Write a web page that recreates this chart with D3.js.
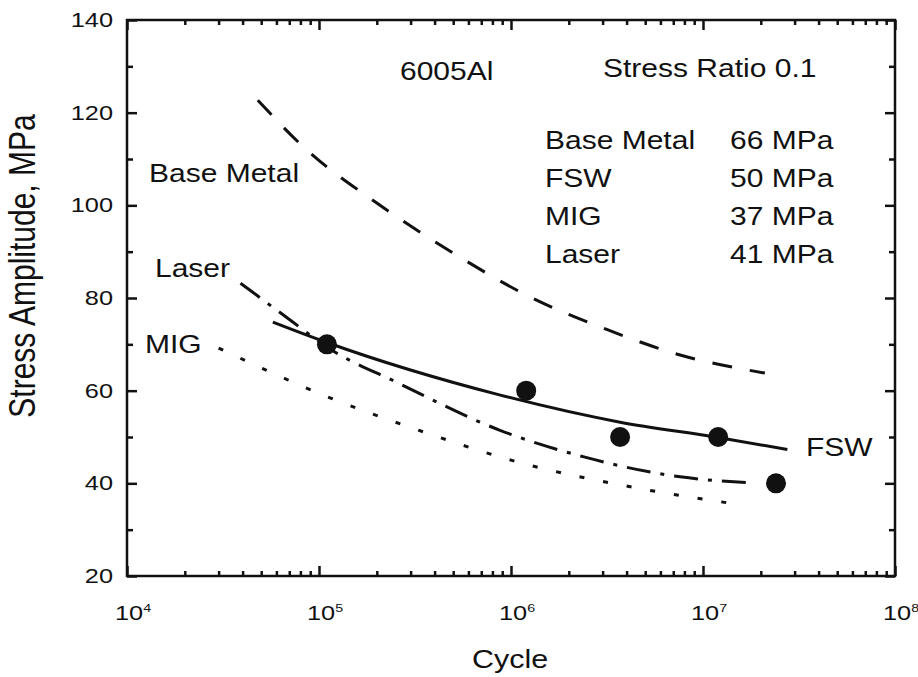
<!DOCTYPE html>
<html>
<head>
<meta charset="utf-8">
<script src="https://cdn.jsdelivr.net/npm/d3@7"></script>
<style>
  body { margin: 0; background: #fff; }
  text { font-family: "Liberation Sans", Arial, Helvetica, sans-serif; fill: #111; }
</style>
</head>
<body>
<div id="chart"></div>
<script>
// S-N curves for 6005Al: [cycles, stress amplitude MPa]
const baseMetal = [[4.8e4, 122.7], [8.3e4, 112.6], [2.0e5, 100.5], [5.0e5, 89.7],
                   [1.26e6, 80.2], [3.2e6, 73.1], [7.6e6, 67.7], [2.1e7, 63.8]];
const fsw = [[5.75e4, 74.8], [1.1e5, 70.4], [8.7e5, 59.1], [3.7e6, 53.2],
             [1.2e7, 49.9], [2.75e7, 47.3]];
const laser = [[3.9e4, 83.2], [7.1e4, 75.2], [1.1e5, 69.4], [2.6e5, 61.6],
               [8.7e5, 51.5], [2.4e6, 45.7], [7.6e6, 41.4], [1.8e7, 40.1]];
const mig = [[3.0e4, 69.2], [1.15e5, 58.4], [3.5e5, 51.1], [1.0e6, 45.0],
             [5.1e6, 38.6], [1.5e7, 35.5]];
const fswPoints = [[1.1e5, 70], [1.2e6, 60], [3.7e6, 50], [1.2e7, 50], [2.4e7, 40]];

const yTicks = [20, 40, 60, 80, 100, 120, 140];
const xDecades = [4, 5, 6, 7, 8];
const limitNames = ["Base Metal", "FSW", "MIG", "Laser"];
const limitValues = ["66 MPa", "50 MPa", "37 MPa", "41 MPa"];

const width = 918, height = 677;
const plotLeft = 127, plotRight = 895, plotTop = 20, plotBottom = 576;

const svg = d3.select('#chart')
  .append('svg')
    .attr('width', width)
    .attr('height', height);

const x = d3.scaleLog().domain([1e4, 1e8]).range([plotLeft, plotRight]);
const y = d3.scaleLinear().domain([20, 140]).range([plotBottom, plotTop]);

// the original picture is stretched sideways, so text gets a horizontal scale
function label(px, py, txt, size, anchor, sx) {
  return svg.append('text')
    .attr('transform', `translate(${px},${py}) scale(${sx || 1.2},1)`)
    .attr('font-size', size)
    .attr('text-anchor', anchor || 'start')
    .text(txt);
}

// ticks, all pointing into the plot
const minorX = [];
xDecades.slice(0, -1).forEach(d => {
  for (let k = 2; k <= 9; k++) minorX.push(k * Math.pow(10, d));
});
const majorX = xDecades.map(d => Math.pow(10, d));
const minorY = d3.range(30, 140, 20);

function tickAxis(axis, transform) {
  svg.append('g')
    .attr('transform', transform)
    .call(axis)
    .call(g => g.select('.domain').remove())
    .call(g => g.selectAll('line').attr('stroke', '#111').attr('stroke-width', 2.5));
}
tickAxis(d3.axisBottom(x).tickValues(majorX).tickSize(-10).tickFormat(''), `translate(0,${plotBottom})`);
tickAxis(d3.axisBottom(x).tickValues(minorX).tickSize(-5).tickFormat(''), `translate(0,${plotBottom})`);
tickAxis(d3.axisTop(x).tickValues(majorX).tickSize(-10).tickFormat(''), `translate(0,${plotTop})`);
tickAxis(d3.axisTop(x).tickValues(minorX).tickSize(-5).tickFormat(''), `translate(0,${plotTop})`);
tickAxis(d3.axisLeft(y).tickValues(yTicks).tickSize(-10).tickFormat(''), `translate(${plotLeft},0)`);
tickAxis(d3.axisLeft(y).tickValues(minorY).tickSize(-6).tickFormat(''), `translate(${plotLeft},0)`);
tickAxis(d3.axisRight(y).tickValues(yTicks).tickSize(-10).tickFormat(''), `translate(${plotRight},0)`);
tickAxis(d3.axisRight(y).tickValues(minorY).tickSize(-6).tickFormat(''), `translate(${plotRight},0)`);

svg.append('rect')
  .attr('x', plotLeft).attr('y', plotTop)
  .attr('width', plotRight - plotLeft).attr('height', plotBottom - plotTop)
  .attr('fill', 'none')
  .attr('stroke', '#111')
  .attr('stroke-width', 2.5);

// tick labels
yTicks.forEach(v => label(113, y(v) + 7, v, 19.5, 'end', 1.3));
xDecades.forEach(d => {
  const t = label(x(Math.pow(10, d)) - 12, 620, '10', 19.5, 'start', 1.3);
  t.append('tspan')
    .attr('font-size', 11)
    .attr('dy', -8)
    .text(d);
});

// axis titles
label(510, 668, 'Cycle', 26.5, 'middle', 1.15);
svg.append('text')
  .attr('transform', `translate(35,266) scale(1.25,1) rotate(-90)`)
  .attr('font-size', 30)
  .attr('text-anchor', 'middle')
  .text('Stress Amplitude, MPa');

// curves
const line = d3.line()
  .x(d => x(d[0]))
  .y(d => y(d[1]))
  .curve(d3.curveMonotoneX);

const curves = [
  { data: baseMetal, dash: '20,18' },
  { data: fsw, dash: null },
  { data: laser, dash: '24,10,4,10' },
  { data: mig, dash: '5,19' }
];

svg.selectAll('path.curve')
  .data(curves)
  .join('path')
    .attr('class', 'curve')
    .attr('d', d => line(d.data))
    .attr('fill', 'none')
    .attr('stroke', '#111')
    .attr('stroke-width', 3)
    .attr('stroke-dasharray', d => d.dash);

svg.selectAll('circle')
  .data(fswPoints)
  .join('circle')
    .attr('cx', d => x(d[0]))
    .attr('cy', d => y(d[1]))
    .attr('r', 10)
    .attr('fill', '#111');

// annotations
label(400, 80, '6005Al', 25);
label(603, 77, 'Stress Ratio 0.1', 25);
const rowY = [149, 187, 225, 263];
limitNames.forEach((n, i) => label(545, rowY[i], n, 25));
limitValues.forEach((v, i) => label(730, rowY[i], v, 25));

label(149, 182, 'Base Metal', 25);
label(155, 277, 'Laser', 25);
label(145, 353, 'MIG', 25);
label(806, 456, 'FSW', 25);
</script>
</body>
</html>
